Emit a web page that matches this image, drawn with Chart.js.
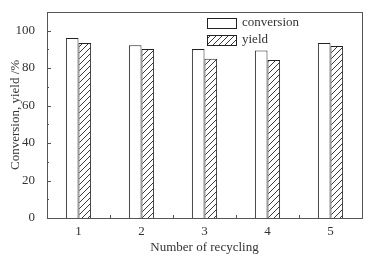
<!DOCTYPE html>
<html>
<head>
<meta charset="utf-8">
<script src="https://cdn.jsdelivr.net/npm/chart.js@4"></script>
<style>
  html, body { margin: 0; padding: 0; background: #fff; }
  #wrap { width: 381px; height: 255px; }
</style>
</head>
<body>
<div id="wrap"><canvas id="chart-recycling"></canvas></div>
<script>
const cycles = ['1', '2', '3', '4', '5'];
const conversion = [96.0, 92.2, 90.2, 89.4, 93.3];
const yieldValues = [93.3, 90.1, 85.0, 84.3, 91.8];
const yTicks = [0, 20, 40, 60, 80, 100];

// hatch pattern for the yield bars
function makeHatch() {
  const c = document.createElement('canvas');
  c.width = 6; c.height = 6;
  const g = c.getContext('2d');
  g.fillStyle = '#fff';
  g.fillRect(0, 0, 6, 6);
  g.strokeStyle = '#222';
  g.lineWidth = 0.9;
  g.beginPath();
  g.moveTo(0, 6); g.lineTo(6, 0);
  g.moveTo(-1, 1); g.lineTo(1, -1);
  g.moveTo(5, 7); g.lineTo(7, 5);
  g.stroke();
  return g.createPattern(c, 'repeat');
}

const ctx = document.getElementById('chart-recycling').getContext('2d');
const hatch = makeHatch();
const fontFamily = '"Liberation Serif", "Times New Roman", serif';

// frame, inward ticks and legend
const framePlugin = {
  id: 'frame',
  afterDraw(chart) {
    const { ctx, chartArea: a, scales } = chart;
    ctx.save();
    ctx.strokeStyle = '#555';
    ctx.lineWidth = 1;
    ctx.strokeRect(Math.round(a.left) + 0.5, Math.round(a.top) + 0.5,
      Math.round(a.right - a.left), Math.round(a.bottom - a.top));

    // y ticks, major and minor
    ctx.beginPath();
    for (let v = 0; v <= 110; v += 10) {
      const y = Math.round(scales.y.getPixelForValue(v)) + 0.5;
      const len = v % 20 === 0 ? 4 : 2;
      ctx.moveTo(a.left, y); ctx.lineTo(a.left + len, y);
    }
    // x ticks between categories
    for (let i = 0; i < cycles.length - 1; i++) {
      const x = Math.round((scales.x.getPixelForValue(i) + scales.x.getPixelForValue(i + 1)) / 2) + 0.5;
      ctx.moveTo(x, a.bottom); ctx.lineTo(x, a.bottom - 3);
    }
    ctx.stroke();

    // legend
    const items = chart.data.datasets;
    ctx.font = '13px ' + fontFamily;
    ctx.textBaseline = 'middle';
    items.forEach((ds, i) => {
      const bx = 207, by = 18 + i * 17;
      ctx.fillStyle = ds.backgroundColor;
      ctx.fillRect(bx, by, 29, 10);
      ctx.strokeStyle = '#222';
      ctx.strokeRect(bx + 0.5, by + 0.5, 29, 10);
      ctx.fillStyle = '#333';
      ctx.fillText(ds.label, bx + 35, by + 4.5);
    });
    ctx.restore();
  }
};

new Chart(ctx, {
  type: 'bar',
  data: {
    labels: cycles,
    datasets: [{
      label: 'conversion',
      data: conversion,
      backgroundColor: '#fff',
      borderColor: '#222',
      borderWidth: 1
    }, {
      label: 'yield',
      data: yieldValues,
      backgroundColor: hatch,
      borderColor: '#222',
      borderWidth: 1
    }]
  },
  options: {
    responsive: true,
    maintainAspectRatio: false,
    animation: false,
    layout: { padding: { left: 0, right: 19, top: 11, bottom: 0 } },
    datasets: { bar: { barPercentage: 1, categoryPercentage: 0.4 } },
    scales: {
      x: {
        grid: { display: false },
        border: { display: false },
        ticks: { color: '#333', font: { family: fontFamily, size: 13 }, padding: -2 },
        title: {
          display: true,
          text: 'Number of recycling',
          color: '#333',
          font: { family: fontFamily, size: 13 },
          padding: { top: -5, bottom: 0 }
        },
        afterFit: scale => { scale.height = 37; }
      },
      y: {
        min: 0,
        max: 110,
        afterBuildTicks: scale => { scale.ticks = yTicks.map(v => ({ value: v })); },
        grid: { display: false },
        border: { display: false },
        ticks: { color: '#333', font: { family: fontFamily, size: 13 }, padding: 4 },
        title: {
          display: true,
          text: 'Conversion, yield /%',
          color: '#333',
          font: { family: fontFamily, size: 13 },
          padding: { top: 8, bottom: 0 }
        },
        afterFit: scale => { scale.width = 47; }
      }
    },
    plugins: {
      legend: { display: false },
      tooltip: { enabled: false }
    }
  },
  plugins: [framePlugin]
});
</script>
</body>
</html>
